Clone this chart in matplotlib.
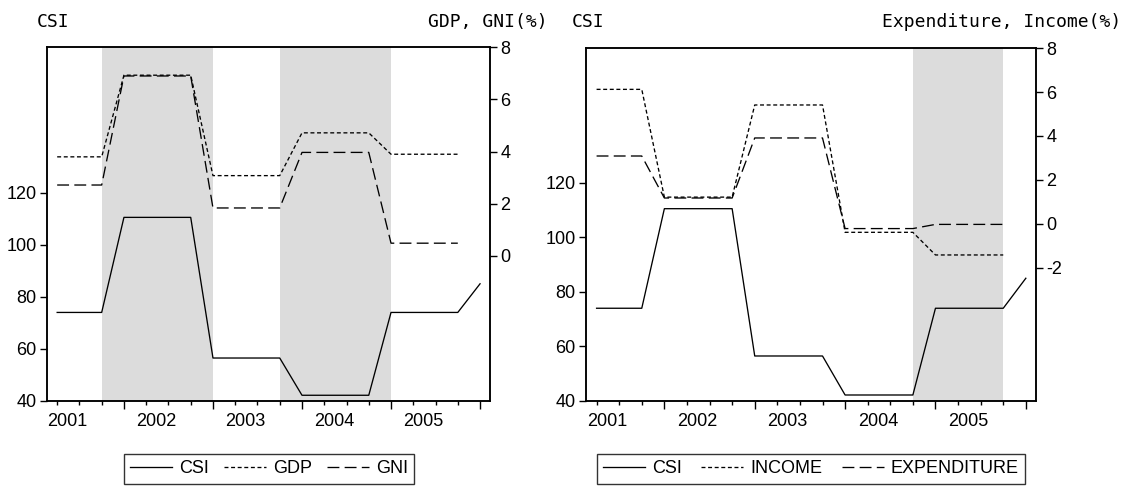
import numpy as np
import matplotlib
matplotlib.use("Agg")
import matplotlib.pyplot as plt

# quarterly observations, 2001 .. 2005
obs = np.arange(20)
years = ["2001", "2002", "2003", "2004", "2005"]
year_pos = [0.45, 4.45, 8.45, 12.45, 16.45]

csi = [74, 74, 74, 110.5, 110.5, 110.5, 110.5, 56.5, 56.5, 56.5, 56.5,
       42.2, 42.2, 42.2, 42.2, 74, 74, 74, 74, 85]
gdp = [3.8, 3.8, 3.8, 6.93, 6.93, 6.93, 6.93, 3.08, 3.08, 3.08, 3.08,
       4.72, 4.72, 4.72, 4.72, 3.9, 3.9, 3.9, 3.9, np.nan]
gni = [2.72, 2.72, 2.72, 6.9, 6.9, 6.9, 6.9, 1.84, 1.84, 1.84, 1.84,
       3.97, 3.97, 3.97, 3.97, 0.49, 0.49, 0.49, 0.49, np.nan]
income = [6.12, 6.12, 6.12, 1.22, 1.22, 1.22, 1.22, 5.41, 5.41, 5.41, 5.41,
          -0.38, -0.38, -0.38, -0.38, -1.41, -1.41, -1.41, -1.41, np.nan]
expenditure = [3.09, 3.09, 3.09, 1.18, 1.18, 1.18, 1.18, 3.91, 3.91, 3.91, 3.91,
               -0.21, -0.21, -0.21, -0.21, -0.02, -0.02, -0.02, -0.02, np.nan]

plt.rcParams['font.family'] = ['Liberation Sans', 'DejaVu Sans']
plt.rcParams['font.size'] = 13
plt.rcParams['axes.unicode_minus'] = False

SHORT = (0, (3, 2))
LONG = (0, (9, 4))
LW = 0.95


def draw_panel(fig, rect, spans, series, names, ylim_left, ylim_right,
               right_ticks, title_left, title_right, title_x, legend_x,
               col_space):
    ax = fig.add_axes(rect)
    for a, b in spans:
        ax.axvspan(a, b, color='#dcdcdc', lw=0, zorder=0)
    h0, = ax.plot(obs, csi, color='black', lw=LW, label='CSI')
    ax.set_xlim(-0.47, 19.45)
    ax.set_ylim(*ylim_left)
    ax.set_yticks([40, 60, 80, 100, 120])

    ax2 = ax.twinx()
    h1, = ax2.plot(obs, series[0], color='black', lw=LW, ls=SHORT, label=names[0])
    h2, = ax2.plot(obs, series[1], color='black', lw=LW, ls=LONG, label=names[1])
    ax2.set_ylim(*ylim_right)
    ax2.set_yticks(right_ticks)

    # x ticks: short at every quarter, long at the 4th quarter marks
    ax.set_xticks([3, 7, 11, 15, 19])
    ax.set_xticks([i for i in obs if i not in (3, 7, 11, 15, 19)], minor=True)
    ax.tick_params(axis='x', which='major', length=6, width=1, labelbottom=False)
    ax.tick_params(axis='x', which='minor', length=3.2, width=1)
    ax.tick_params(axis='y', length=5, width=1, pad=2.4)
    ax2.tick_params(axis='y', length=5, width=1, pad=2.4)
    for yr, p in zip(years, year_pos):
        ax.annotate(yr, xy=(p, 0), xycoords=('data', 'axes fraction'),
                    xytext=(0, -9), textcoords='offset points',
                    ha='center', va='top')
    for a in (ax, ax2):
        for s in a.spines.values():
            s.set_linewidth(1.1)

    fig.text(title_x[0], 0.955, title_left, family='DejaVu Sans Mono',
             fontsize=13, ha='left', va='center')
    fig.text(title_x[1], 0.955, title_right, family='DejaVu Sans Mono',
             fontsize=13, ha='right', va='center')

    leg = fig.legend([h0, h1, h2], ['CSI'] + names, loc='center',
                     bbox_to_anchor=(legend_x, 0.037), ncol=3,
                     frameon=True, fancybox=False, handlelength=2.3,
                     handletextpad=0.4, columnspacing=col_space,
                     borderpad=0.35, fontsize=13)
    leg.get_frame().set_edgecolor('black')
    leg.get_frame().set_linewidth(1.0)
    return ax, ax2


fig = plt.figure(figsize=(11.31, 4.87), dpi=100)

draw_panel(fig, [0.0413, 0.1766, 0.3920, 0.7263],
           [(2, 7), (10, 15)], [gdp, gni], ['GDP', 'GNI'],
           (40, 175.8), (-5.56, 8), [0, 2, 4, 6, 8],
           'CSI', 'GDP, GNI(%)', (36.4 / 1131, 547.3 / 1131), 0.238, 0.85)

draw_panel(fig, [0.5181, 0.1766, 0.3979, 0.7248],
           [(14, 18)], [income, expenditure], ['INCOME', 'EXPENDITURE'],
           (40, 169.4), (-8.05, 8), [-2, 0, 2, 4, 6, 8],
           'CSI', 'Expenditure, Income(%)', (572.2 / 1131, 1121 / 1131),
           0.717, 1.1)

fig.savefig('out.png', dpi=100)
